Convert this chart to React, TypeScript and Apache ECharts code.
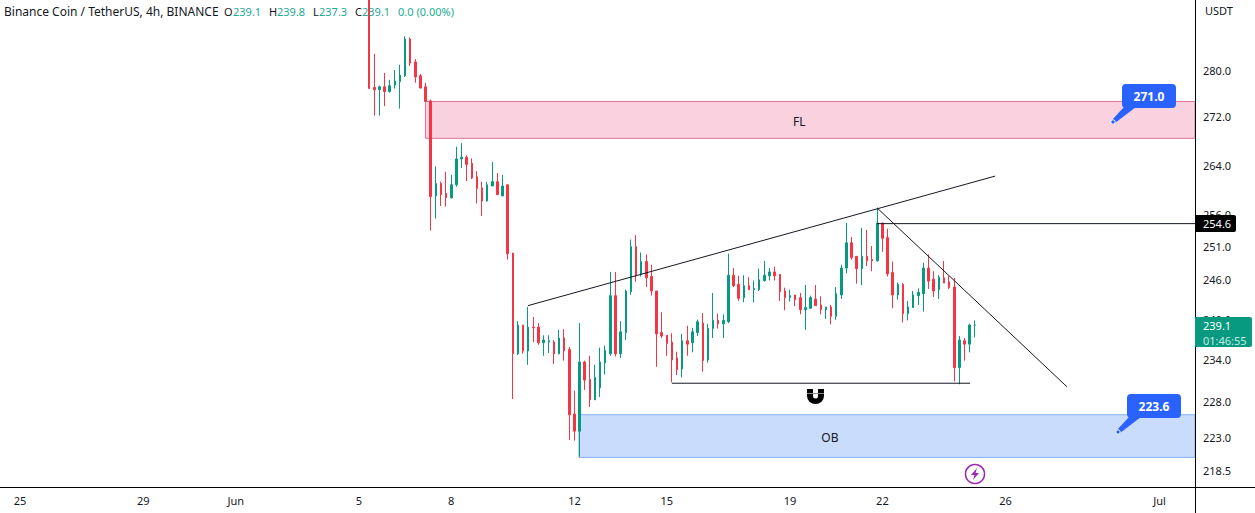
import React, { useEffect, useRef } from "react";
import * as echarts from "echarts";

// ---- data -----------------------------------------------------------------------
const opens = [296,277.0,276.6,277.1,276.3,277.4,278.0,279.0,285.4,281.4,279.0,277.1,274.7,259.0,261.0,259.4,258.7,260.8,265.0,265.3,264.3,262.1,260.3,258.2,260.6,261.3,259.0,260.8,250.0,234.9,239.1,235.3,238.8,238.8,236.5,236.6,236.6,234.9,237.2,235.5,226.3,223.9,233.7,231.2,228.3,230.0,233.6,234.9,243.5,234.9,238.0,244.1,251.0,246.7,248.7,246.4,244.2,238.0,237.6,236.6,234.3,232.7,236.8,236.5,238.0,239.4,234.0,238.6,239.8,239.3,239.6,246.6,245.2,243.2,245.0,244.4,244.4,245.8,246.5,247.1,246.7,244.2,243.2,243.6,243.2,241.4,241.6,243.0,242.1,241.4,241.8,240.4,243.6,247.7,251.6,249.5,247.6,249.5,249.0,248.8,254.7,252.4,247.0,243.6,245.2,240.8,241.7,243.5,243.8,247.7,246.0,244.4,246.2,245.6,244.8,232.9,236.8,236.3,239.1];
const closes = [276.8,276.6,277.1,276.3,277.3,278.1,279.1,285.4,281.2,278.8,276.9,274.6,258.9,261.0,259.2,258.7,260.8,265.0,265.3,264.1,261.9,260.2,258.2,260.8,261.3,259.2,260.6,249.9,234.9,239.1,235.3,238.8,238.7,236.5,236.9,236.8,234.9,237.2,235.3,226.2,223.9,233.7,231.1,228.3,231.5,233.7,235.4,243.5,234.9,238.1,244.2,251.0,246.5,248.7,246.2,244.2,237.8,237.5,236.4,234.0,232.6,236.8,236.3,238.1,239.6,233.9,238.6,239.8,239.3,239.8,246.6,245.0,243.1,245.0,244.4,244.6,245.9,246.6,247.1,246.5,244.1,243.2,243.5,242.9,241.4,241.7,243.2,242.0,241.4,241.8,240.4,243.8,247.7,251.6,249.3,247.6,249.5,248.8,248.8,254.7,252.3,246.8,243.6,245.2,240.8,241.8,243.6,244.0,247.7,245.7,244.2,246.3,245.4,244.7,232.9,236.9,236.3,239.1,239.1];
const lows = [276.8,272.2,272.2,273.8,276.1,276.8,273.4,278.8,280.7,277.8,276.8,274.6,253.5,255.4,257.4,257.3,258.6,260.5,263.5,261.4,261.7,257.8,255.8,258.1,260.6,259.2,259.0,249.0,228.4,234.7,234.9,233.3,236.6,236.2,234.6,235.0,233.4,234.8,233.9,222.7,222.6,220.4,229.7,227.3,228.3,228.7,231.9,234.6,234.5,234.3,236.9,243.6,245.6,246.4,244.8,243.5,233.0,237.2,234.6,230.8,231.8,231.5,234.6,235.1,237.5,232.3,233.6,237.2,238.6,237.2,239.4,244.8,242.7,242.5,244.4,242.5,244.2,245.6,245.8,245.8,242.7,241.3,242.6,241.9,240.7,238.4,241.6,242.0,240.7,240.0,239.2,239.9,243.0,246.9,249.0,245.3,245.1,248.0,247.2,248.7,250.2,246.4,241.6,242.9,239.5,239.8,241.7,242.1,241.1,244.5,243.3,243.0,245.4,244.5,230.9,230.5,233.9,235.1,237.3];
const highs = [300,282.8,277.3,279.5,278.3,280.0,280.9,285.9,285.7,281.9,279.3,277.8,274.9,263.8,261.3,262.9,262.4,267.0,267.6,265.6,265.1,263.0,261.3,261.3,264.5,262.7,262.4,260.8,250.0,239.7,239.1,241.8,240.3,239.4,237.6,237.6,236.9,238.4,238.5,235.9,229.6,239.4,233.9,234.6,233.3,235.8,236.1,247.1,247.1,239.7,244.4,252.1,252.8,250.1,249.8,248.2,244.2,241.0,237.6,237.9,235.2,237.8,239.0,238.7,239.9,240.9,239.3,243.9,240.8,240.7,249.9,247.7,246.5,246.6,246.3,245.8,247.6,248.8,247.7,247.9,246.8,244.7,244.4,243.6,243.9,245.1,243.5,245.1,243.4,241.8,242.1,244.8,248.2,254.7,252.5,249.5,253.9,253.6,251.1,257.1,254.7,253.8,248.7,245.5,245.4,242.7,244.2,244.6,248.5,249.8,247.2,246.6,248.8,246.5,246.2,237.5,237.2,239.3,239.8];

// the x axis counts hours since 25 May 00:00
const firstCandleHour = 272;
const candleStepHours = 4;
const axisMinHour = -15.66;
const axisMaxHour = 915.6;

const xTickHours = [0, 96, 168, 264, 336, 432, 504, 600, 672, 768, 888];
const xTickLabels = ["25", "29", "Jun", "5", "8", "12", "15", "19", "22", "26", "Jul"];
const yTicks = [218.5, 223, 228, 234, 240, 246, 251, 256, 264, 272, 280];
const yMin = 216.3;
const yMax = 292.4;

const flZone = { fromHour: 315.9, top: 274.6, bottom: 268.4, name: "FL" };
const obZone = { fromHour: 435.5, top: 226.2, bottom: 220.3, name: "OB" };

const risingLineHours = [395.8, 759.8];
const risingLinePrices = [242.0, 262.2];
const fallingLineHours = [667.8, 815.8];
const fallingLinePrices = [257.1, 230.15];
const supportLineHours = [507.9, 740.3];
const supportLinePrices = [230.65, 230.65];
const resistanceLineHours = [667.8, 915.6];
const resistanceLinePrices = [254.6, 254.6];

const UP = "#089981";
const UP_TEXT = "#22ab94";
const DOWN = "#f23645";
const INK = "#131722";
const FONT = "'Noto Sans', sans-serif";
const BLUE = "#2962ff";

echarts.graphic.registerShape(
  "magnet",
  echarts.graphic.extendPath(
    "M0 0 H6 V7 A2.5 2.5 0 0 0 11 7 V0 H17 V7 A8.5 8 0 0 1 0 7 Z",
    {}
  )
);

const txt = (x: number, y: number, text: string, fill: string, size = 11) => ({
  type: "text",
  x,
  y,
  z: 0,
  style: { text, fill, font: `${size}px ${FONT}`, textVerticalAlign: "middle" },
});

function callout(dotX: number, dotY: number, text: string) {
  return [
    {
      type: "rect",
      z: 20,
      shape: { x: dotX + 9, y: dotY - 38, width: 54, height: 24, r: 4 },
      style: { fill: BLUE },
    },
    {
      type: "polygon",
      z: 20,
      shape: {
        points: [
          [dotX + 11, dotY - 15],
          [dotX + 23, dotY - 15],
          [dotX + 2, dotY + 1],
          [dotX - 1, dotY - 2],
        ],
      },
      style: { fill: BLUE },
    },
    {
      type: "circle",
      z: 21,
      shape: { cx: dotX, cy: dotY, r: 2.2 },
      style: { fill: BLUE, stroke: "#ffffff", lineWidth: 1 },
    },
    {
      type: "text",
      z: 22,
      x: dotX + 36,
      y: dotY - 26,
      style: {
        text,
        fill: "#ffffff",
        font: `bold 12px ${FONT}`,
        textAlign: "center",
        textVerticalAlign: "middle",
      },
    },
  ];
}

function zone(z: any, fill: string, stroke: string, labelOffset: number[]) {
  return {
    type: "line",
    z: 1,
    data: [],
    silent: true,
    markArea: {
      silent: true,
      itemStyle: { color: fill, borderColor: stroke, borderWidth: 1 },
      label: {
        show: true,
        position: "inside",
        offset: labelOffset,
        color: INK,
        fontFamily: FONT,
        fontSize: 12,
      },
      data: [
        [
          { name: z.name, coord: [z.fromHour, z.top] },
          { coord: [axisMaxHour, z.bottom] },
        ],
      ],
    },
  };
}

function trend(hours: number[], prices: number[]) {
  return {
    type: "line",
    z: 5,
    silent: true,
    symbol: "none",
    clip: true,
    lineStyle: { color: "#131722", width: 1 },
    data: hours.map((h, i) => [h, prices[i]]),
  };
}

export default function App() {
  const ref = useRef<HTMLDivElement>(null);

  useEffect(() => {
    document.body.style.margin = "0";
    document.body.style.overflow = "hidden";
    const chart = echarts.init(ref.current!, null, { renderer: "svg" });
    const candles = opens.map((o, i) => [
      firstCandleHour + i * candleStepHours,
      o,
      closes[i],
      lows[i],
      highs[i],
    ]);

    const graphicElements: any[] = [
      txt(4, 11, "Binance Coin / TetherUS, 4h, BINANCE", INK, 12),
      txt(224, 11, "O", INK),
      txt(233, 11, "239.1", UP_TEXT),
      txt(269, 11, "H", INK),
      txt(277, 11, "239.8", UP_TEXT),
      txt(313, 11, "L", INK),
      txt(319, 11, "237.3", UP_TEXT),
      txt(355, 11, "C", INK),
      txt(362, 11, "239.1", UP_TEXT),
      txt(398, 11, "0.0 (0.00%)", UP_TEXT),
      { type: "line", z: 30, shape: { x1: 1195.5, y1: 0, x2: 1195.5, y2: 513 }, style: { stroke: "#000", lineWidth: 1 } },
      { type: "line", z: 30, shape: { x1: 0, y1: 487.5, x2: 1255, y2: 487.5 }, style: { stroke: "#000", lineWidth: 1 } },
      { ...txt(1205, 10, "USDT", INK), z: 30 },
      ...callout(1113, 122, "271.0"),
      ...callout(1118, 432, "223.6"),
      { type: "rect", z: 30, shape: { x: 1195, y: 215, width: 41, height: 17, r: [0, 2, 2, 0] }, style: { fill: "#000" } },
      { ...txt(1203, 223.5, "254.6", "#fff"), z: 31 },
      { type: "rect", z: 30, shape: { x: 1195, y: 317, width: 57, height: 30, r: [0, 2, 2, 0] }, style: { fill: UP } },
      { ...txt(1203, 325.5, "239.1", "#fff"), z: 31 },
      { ...txt(1203, 340, "01:46:55", "#c4ebe3"), z: 31 },
      { type: "magnet", z: 20, x: 807, y: 389, style: { fill: "#000" } },
      { type: "rect", z: 21, shape: { x: 807, y: 393, width: 17, height: 1 }, style: { fill: "#888" } },
      { type: "circle", z: 20, shape: { cx: 975, cy: 474, r: 9.5 }, style: { fill: "#fff", stroke: "#9c27b0", lineWidth: 1.5 } },
      {
        type: "polygon",
        z: 21,
        shape: { points: [[977, 468], [971, 475], [974.5, 475], [973, 480], [979, 473], [975.5, 473]] },
        style: { fill: "#9c27b0" },
      },
    ];

    chart.setOption({
      animation: false,
      backgroundColor: "#ffffff",
      grid: { left: 0, right: 60, top: 0, bottom: 26, containLabel: false },
      xAxis: {
        type: "value",
        min: axisMinHour,
        max: axisMaxHour,
        axisLine: { show: false },
        axisTick: { show: false },
        splitLine: { show: false },
        axisLabel: {
          customValues: xTickHours,
          color: INK,
          fontFamily: FONT,
          fontSize: 11,
          margin: 8,
          hideOverlap: false,
          formatter: (v: number) => xTickLabels[xTickHours.indexOf(v)] ?? "",
        },
      },
      yAxis: {
        type: "log",
        position: "right",
        min: yMin,
        max: yMax,
        axisLine: { show: false },
        axisTick: { show: false },
        splitLine: { show: false },
        axisLabel: {
          customValues: yTicks,
          color: INK,
          fontFamily: FONT,
          fontSize: 11,
          margin: 8,
          hideOverlap: false,
          formatter: (v: number) => Number(v).toFixed(1),
        },
      },
      graphic: { elements: graphicElements },
      series: [
        zone(flZone, "#f9d1df", "#dd7396", [-11, 2]),
        zone(obZone, "#c9dcfc", "#86b1f6", [-57, 1]),
        {
          type: "candlestick",
          z: 3,
          silent: true,
          barWidth: 2,
          encode: { x: 0, y: [1, 2, 3, 4] },
          itemStyle: {
            color: UP,
            color0: DOWN,
            borderColor: UP,
            borderColor0: DOWN,
            borderColorDoji: UP,
            borderWidth: 1,
          },
          data: candles,
        },
        trend(risingLineHours, risingLinePrices),
        trend(fallingLineHours, fallingLinePrices),
        trend(supportLineHours, supportLinePrices),
        trend(resistanceLineHours, resistanceLinePrices),
      ],
    });
    return () => chart.dispose();
  }, []);

  return <div ref={ref} style={{ width: 1255, height: 513 }} />;
}
